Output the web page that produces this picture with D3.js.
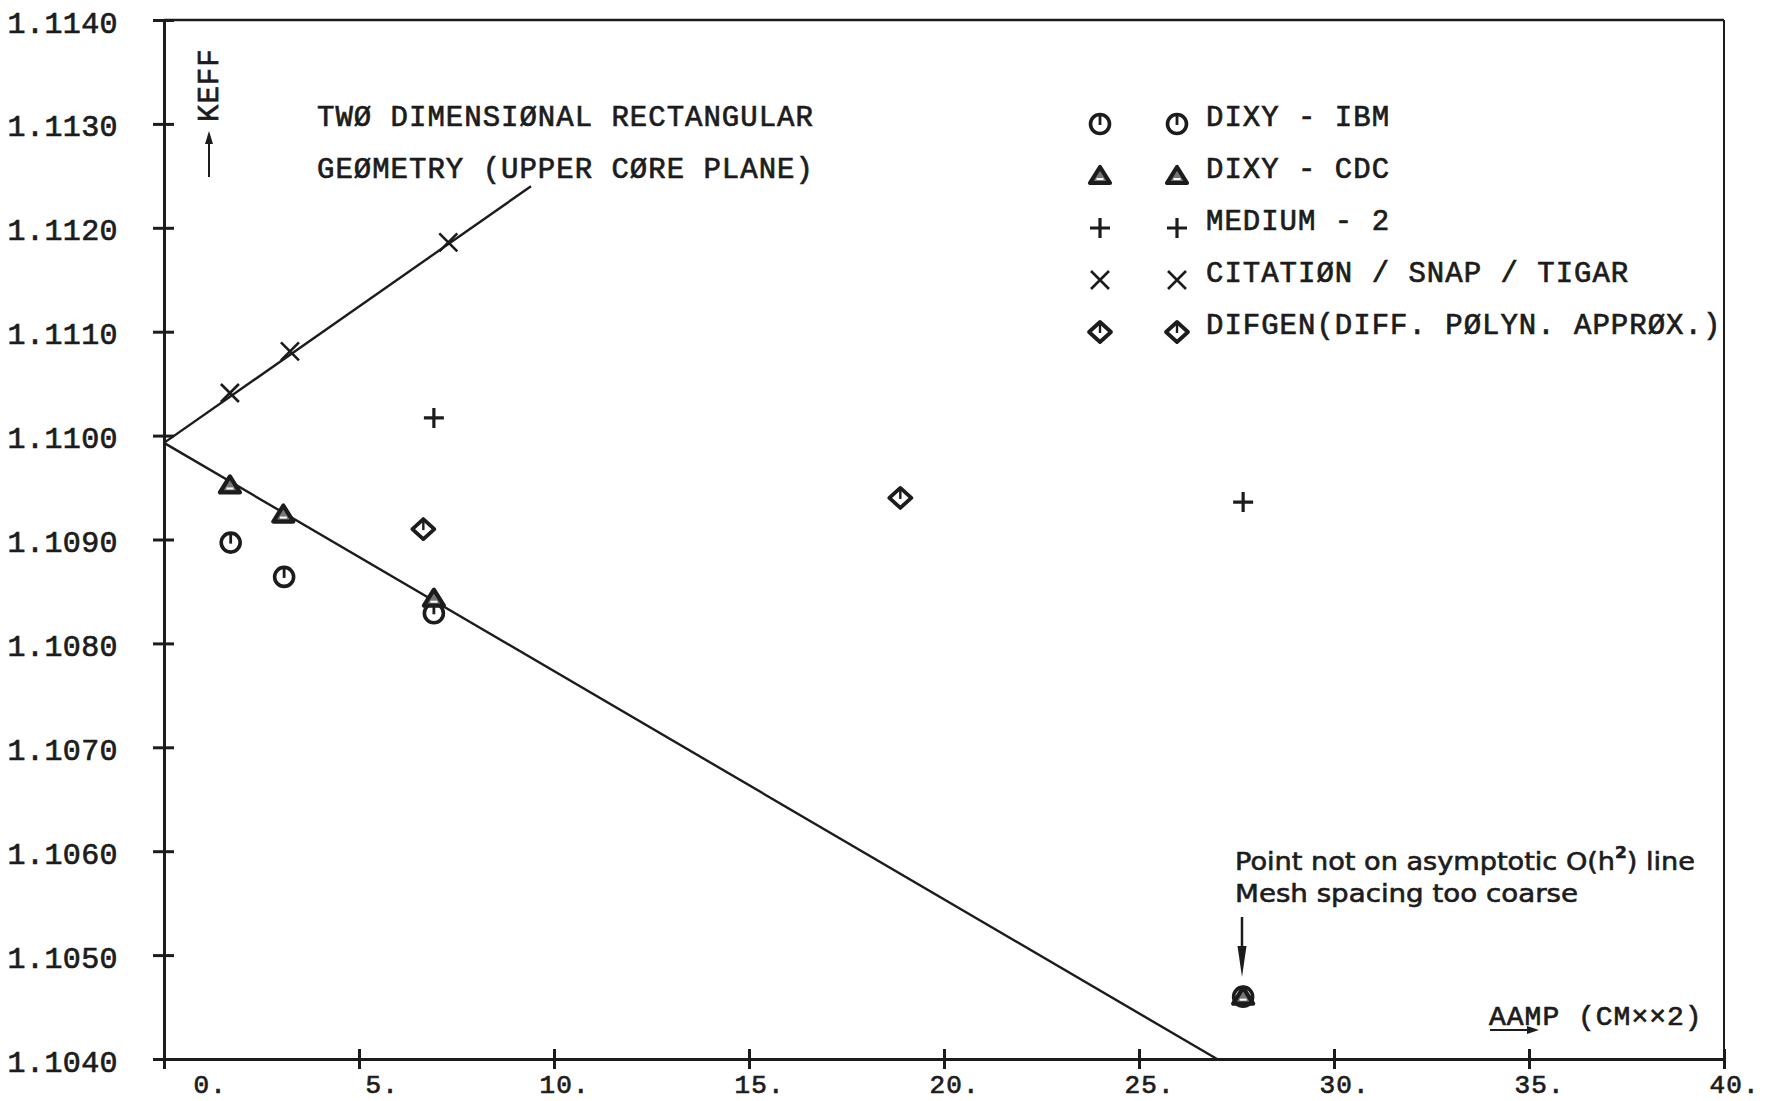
<!DOCTYPE html>
<html>
<head>
<meta charset="utf-8">
<script src="https://cdn.jsdelivr.net/npm/d3@7"></script>
<style>
  html, body { margin: 0; padding: 0; background: #fff; }
  svg { display: block; }
</style>
</head>
<body>
<svg id="chart" width="1771" height="1101"></svg>
<script>
// ---------------- DATA ----------------
const xTicks = [0, 5, 10, 15, 20, 25, 30, 35, 40];
const yTicks = [1.1040, 1.1050, 1.1060, 1.1070, 1.1080, 1.1090, 1.1100, 1.1110, 1.1120, 1.1130, 1.1140];

// DIXY - IBM (octagon / circle)
const ibmX = [1.71, 3.08, 6.92, 27.67];
const ibmY = [1.10897, 1.10864, 1.10829, 1.10460];
// DIXY - CDC (triangle)
const cdcX = [1.69, 3.06, 6.92, 27.67];
const cdcY = [1.10952, 1.10924, 1.10843, 1.10460];
// MEDIUM - 2 (plus)
const medX = [6.92, 27.67];
const medY = [1.11017, 1.10936];
// CITATION / SNAP / TIGAR (x)
const citX = [1.69, 3.23, 7.29];
const citY = [1.11041, 1.11081, 1.11186];
// DIFGEN (diamond)
const difX = [6.65, 18.88];
const difY = [1.10910, 1.10940];

// asymptotic O(h^2) lines
const upperLineX = [0, 9.41];
const upperLineY = [1.10993, 1.11240];
const lowerLineX = [0, 27.0];
const lowerLineY = [1.10993, 1.10400];

const legendLabels = ["DIXY - IBM", "DIXY - CDC", "MEDIUM - 2", "CITATIØN / SNAP / TIGAR", "DIFGEN(DIFF. PØLYN. APPRØX.)"];
const legendSymbols = ["octagon", "triangle", "plus", "cross", "diamond"];
const titleLines = ["TWØ DIMENSIØNAL RECTANGULAR", "GEØMETRY (UPPER CØRE PLANE)"];
const yAxisTitle = "KEFF";
const xAxisTitle = "AAMP (CM××2)";
const noteLines = ["Point not on asymptotic O(h", "2", ") line", "Mesh spacing too coarse"];

// ---------------- LAYOUT ----------------
const ink = "#1c1c1c";
const mono = "'Liberation Mono', 'DejaVu Sans Mono', monospace";
const M = { left: 164, right: 1724, top: 20, bottom: 1059 };

const svg = d3.select("#chart");
svg.append("rect").attr("width", 1771).attr("height", 1101).attr("fill", "#fff");

const x = d3.scaleLinear().domain([0, 40]).range([M.left, M.right]);
const y = d3.scaleLinear().domain([1.1040, 1.1140]).range([M.bottom, M.top]);

function monoText(sel, size, ls) {
  return sel.attr("fill", ink).attr("stroke", ink).attr("stroke-width", 0.7)
    .style("font-family", mono).style("font-size", size + "px").style("letter-spacing", ls + "px");
}

// ---------------- AXES ----------------
const gy = svg.append("g").attr("transform", `translate(${M.left},0)`)
  .call(d3.axisLeft(y).tickValues(yTicks).tickFormat(d3.format(".4f")).tickSize(10).tickSizeOuter(0));
gy.select(".domain").attr("stroke", ink).attr("stroke-width", 3);
gy.selectAll(".tick line").attr("x1", -11).attr("x2", 10).attr("stroke", ink).attr("stroke-width", 3);
monoText(gy.selectAll(".tick text").attr("x", -46).attr("dy", 12), 30, 0.4);

const gx = svg.append("g").attr("transform", `translate(0,${M.bottom})`)
  .call(d3.axisBottom(x).tickValues(xTicks).tickFormat(d => d + ".").tickSize(10).tickSizeOuter(0));
gx.select(".domain").attr("stroke", ink).attr("stroke-width", 3);
gx.selectAll(".tick line").attr("y1", -10).attr("y2", 10).attr("stroke", ink).attr("stroke-width", 3);
monoText(gx.selectAll(".tick text").attr("y", 34).attr("dy", 0)
  .attr("text-anchor", "start")
  .attr("x", d => d === 0 ? 29 : (d < 10 ? 6 : -15)), 26, 1.2);

// frame: top and right
svg.append("line").attr("x1", M.left).attr("x2", M.right).attr("y1", y(1.114)).attr("y2", y(1.114))
  .attr("stroke", ink).attr("stroke-width", 2.5);
svg.append("line").attr("x1", M.right).attr("x2", M.right).attr("y1", M.top).attr("y2", M.bottom)
  .attr("stroke", ink).attr("stroke-width", 2);

// ---------------- LINES ----------------
const lineGen = d3.line().x(d => x(d[0])).y(d => y(d[1]));
[[upperLineX, upperLineY], [lowerLineX, lowerLineY]].forEach(([xs, ys]) => {
  svg.append("path").datum(xs.map((v, i) => [v, ys[i]]))
    .attr("d", lineGen).attr("fill", "none").attr("stroke", ink).attr("stroke-width", 2.4);
});

// ---------------- SYMBOLS ----------------
function drawSymbol(g, type) {
  const s = g.append("g").attr("fill", "none").attr("stroke", ink).attr("stroke-linejoin", "round");
  if (type === "octagon") {
    s.append("circle").attr("r", 9.5).attr("stroke-width", 3.6).attr("fill", "#fff");
    s.append("line").attr("x1", 0).attr("x2", 0).attr("y1", -9).attr("y2", 1).attr("stroke-width", 2.8);
  } else if (type === "triangle") {
    s.append("path").attr("d", "M-10,7L10,7L0,-9Z").attr("stroke-width", 4.2).attr("fill", "#777");
    s.append("line").attr("x1", -3.5).attr("x2", 3.5).attr("y1", 3).attr("y2", 3).attr("stroke", "#fff").attr("stroke-width", 2);
  } else if (type === "plus") {
    s.append("path").attr("d", "M-10,0H10M0,-10V10").attr("stroke-width", 3.2);
  } else if (type === "cross") {
    s.append("path").attr("d", "M-9,-9L9,9M-9,9L9,-9").attr("stroke-width", 2.6);
  } else if (type === "diamond") {
    s.append("path").attr("d", "M0,-10L11,0L0,10L-11,0Z").attr("stroke-width", 3.8).attr("fill", "#fff");
    s.append("line").attr("x1", 0).attr("x2", 0).attr("y1", -9).attr("y2", 1).attr("stroke-width", 2.4);
  }
}

const seriesDefs = [
  { xs: ibmX, ys: ibmY, sym: "octagon" },
  { xs: cdcX, ys: cdcY, sym: "triangle" },
  { xs: medX, ys: medY, sym: "plus" },
  { xs: citX, ys: citY, sym: "cross" },
  { xs: difX, ys: difY, sym: "diamond" }
];
seriesDefs.forEach(sd => {
  sd.xs.forEach((xv, i) => {
    const g = svg.append("g").attr("transform", `translate(${x(xv)},${y(sd.ys[i])})`);
    drawSymbol(g, sd.sym);
  });
});

// ---------------- TITLE ----------------
titleLines.forEach((t, i) => {
  monoText(svg.append("text").attr("x", 317).attr("y", 126 + i * 52).text(t), 29, 1);
});

// ---------------- LEGEND ----------------
legendLabels.forEach((lab, i) => {
  const by = 126 + i * 52;
  [1100, 1177].forEach(sx => {
    const g = svg.append("g").attr("transform", `translate(${sx},${by - 2})`);
    drawSymbol(g, legendSymbols[i]);
  });
  monoText(svg.append("text").attr("x", 1206).attr("y", by).text(lab), 29, 1);
});

// ---------------- Y TITLE (KEFF with arrow) ----------------
monoText(svg.append("text").attr("transform", "translate(218,122) rotate(-90)").text(yAxisTitle), 29, 1);
svg.append("line").attr("x1", 209).attr("x2", 209).attr("y1", 177).attr("y2", 140)
  .attr("stroke", ink).attr("stroke-width", 2);
svg.append("path").attr("d", "M209,131L205,144L213,144Z").attr("fill", ink);

// ---------------- X TITLE ----------------
monoText(svg.append("text").attr("x", 1489).attr("y", 1025).text(xAxisTitle), 28, 1);
svg.append("line").attr("x1", 1490).attr("x2", 1530).attr("y1", 1030).attr("y2", 1030)
  .attr("stroke", ink).attr("stroke-width", 2);
svg.append("path").attr("d", "M1539,1030L1527,1026L1527,1034Z").attr("fill", ink);

// ---------------- NOTE ----------------
const noteFont = "'DejaVu Sans', 'Noto Sans', sans-serif";
const n1 = svg.append("text").attr("x", 1235).attr("y", 870)
  .attr("fill", ink).attr("stroke", ink).attr("stroke-width", 0.6)
  .style("font-family", noteFont).style("font-size", "24px")
  .attr("textLength", 460).attr("lengthAdjust", "spacingAndGlyphs");
n1.append("tspan").text(noteLines[0]);
n1.append("tspan").attr("dy", -12).style("font-size", "15px").style("font-weight", "bold").text(noteLines[1]);
n1.append("tspan").attr("dy", 12).text(noteLines[2]);
svg.append("text").attr("x", 1235).attr("y", 902).text(noteLines[3])
  .attr("fill", ink).attr("stroke", ink).attr("stroke-width", 0.6)
  .style("font-family", noteFont).style("font-size", "24px")
  .attr("textLength", 343).attr("lengthAdjust", "spacingAndGlyphs");
svg.append("line").attr("x1", 1242).attr("x2", 1242).attr("y1", 917).attr("y2", 950)
  .attr("stroke", ink).attr("stroke-width", 2.5);
svg.append("path").attr("d", "M1242,977L1237.5,946L1246.5,946Z").attr("fill", ink);
</script>
</body>
</html>
